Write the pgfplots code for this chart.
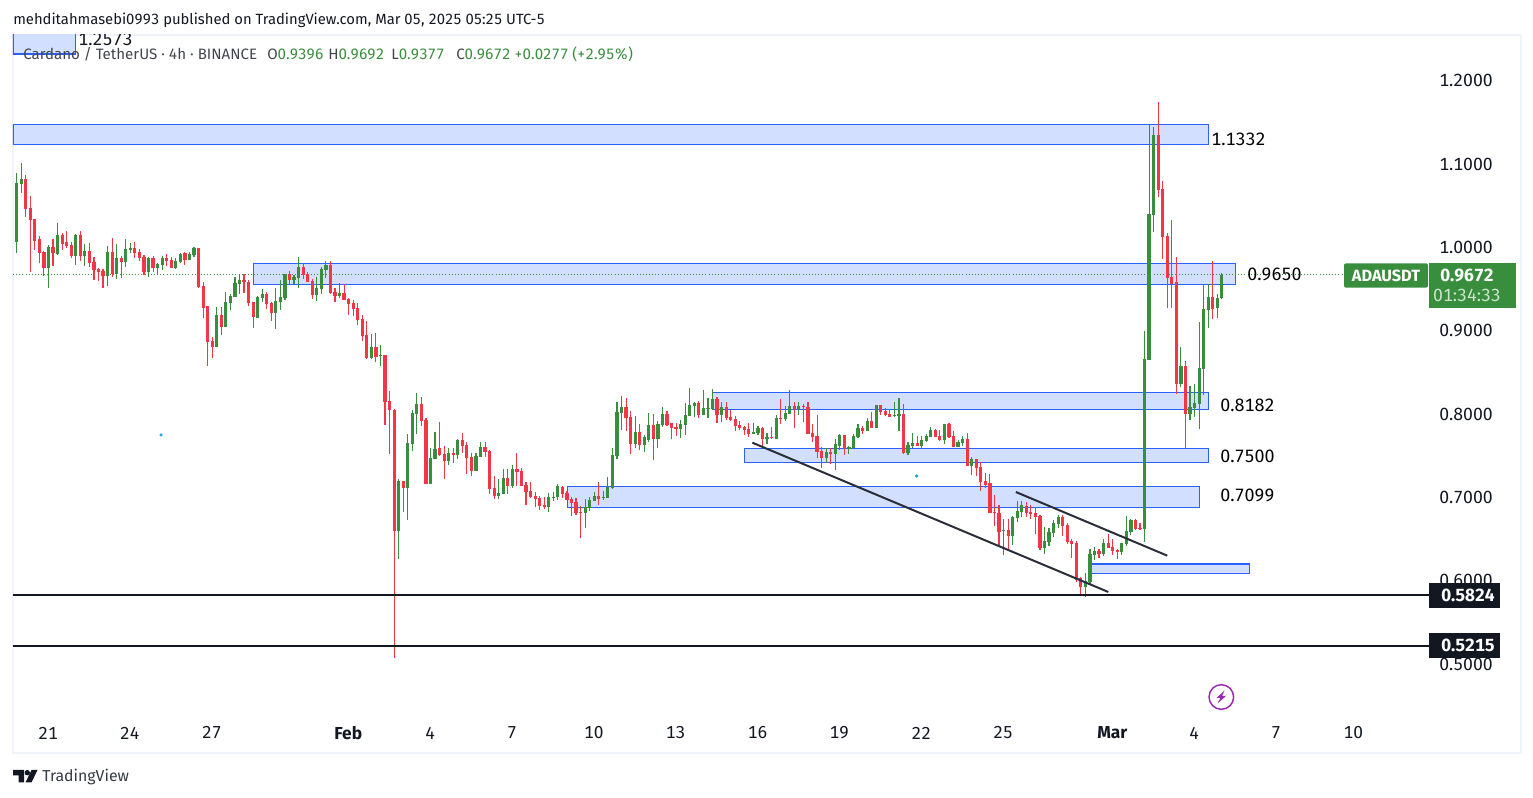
\documentclass[border=0pt]{standalone}
\usepackage{pgfplots}
\usepackage{pgfplotstable}
\usepackage{fontspec}
\setmainfont{Fira Sans}[Numbers={Lining,Monospaced}]
\pgfplotsset{compat=1.18}

\definecolor{upc}{HTML}{388E3C}
\definecolor{downc}{HTML}{F23645}
\definecolor{zonef}{HTML}{D2DFFE}
\definecolor{zonel}{HTML}{2962FF}
\definecolor{ink}{HTML}{131722}
\definecolor{pane}{HTML}{F0F3FA}
\definecolor{trend}{HTML}{2A2E39}
\definecolor{bolt}{HTML}{9C27B0}

% i o h l c, 4h candles, i=0 is Jan 21
\pgfplotstableread{
i o h l c
-7 1.0064 1.0892 0.9932 1.0772
-6 1.0760 1.1012 1.0652 1.0820
0 0.9752 1.0028 0.9512 1.0004
2 0.9920 1.0292 0.9908 1.0148
6 0.9896 1.0160 0.9788 1.0148
8 0.9896 1.0040 0.9776 0.9956
13 0.9656 1.0016 0.9536 0.9944
15 0.9680 1.0040 0.9620 0.9872
17 0.9824 1.0100 0.9764 0.9980
18 0.9968 1.0052 0.9932 0.9992
22 0.9704 0.9884 0.9644 0.9872
24 0.9752 0.9812 0.9680 0.9800
25 0.9788 0.9896 0.9728 0.9872
28 0.9752 0.9872 0.9740 0.9836
29 0.9824 0.9932 0.9812 0.9920
31 0.9848 0.9944 0.9848 0.9920
32 0.9908 1.0004 0.9884 0.9992
37 0.8804 0.9284 0.8804 0.9188
39 0.9044 0.9464 0.9044 0.9344
40 0.9332 0.9440 0.9248 0.9416
41 0.9404 0.9644 0.9404 0.9572
42 0.9560 0.9680 0.9440 0.9608
46 0.9152 0.9416 0.9152 0.9404
47 0.9392 0.9500 0.9344 0.9440
50 0.9212 0.9512 0.9020 0.9356
51 0.9344 0.9608 0.9248 0.9404
52 0.9392 0.9680 0.9368 0.9680
54 0.9608 0.9668 0.9560 0.9644
55 0.9632 0.9884 0.9512 0.9764
59 0.9428 0.9644 0.9356 0.9512
60 0.9500 0.9764 0.9440 0.9740
61 0.9728 0.9836 0.9632 0.9788
64 0.9416 0.9572 0.9392 0.9452
71 0.8672 0.8960 0.8660 0.8804
73 0.8696 0.8828 0.8576 0.8708
77 0.6596 0.7220 0.6260 0.7196
79 0.7112 0.7760 0.6728 0.7652
80 0.7640 0.8048 0.7556 0.8012
81 0.8000 0.8252 0.7760 0.8120
84 0.7160 0.7592 0.7160 0.7472
85 0.7460 0.7784 0.7460 0.7580
88 0.7436 0.7592 0.7388 0.7532
90 0.7508 0.7700 0.7460 0.7688
94 0.7316 0.7532 0.7316 0.7496
95 0.7484 0.7664 0.7484 0.7604
99 0.7016 0.7220 0.6980 0.7052
100 0.7040 0.7340 0.7040 0.7232
102 0.7136 0.7388 0.7112 0.7340
110 0.6884 0.7052 0.6824 0.7004
111 0.6992 0.7064 0.6956 0.7004
112 0.7004 0.7160 0.6968 0.7136
118 0.6812 0.6980 0.6632 0.6884
119 0.6872 0.7004 0.6836 0.6968
120 0.6956 0.7064 0.6956 0.7016
122 0.6992 0.7076 0.6968 0.7004
123 0.6992 0.7244 0.6992 0.7124
124 0.7112 0.7592 0.7100 0.7508
125 0.7496 0.8144 0.7460 0.8024
126 0.8012 0.8216 0.7808 0.8084
129 0.7640 0.7976 0.7592 0.7784
131 0.7628 0.7748 0.7544 0.7724
132 0.7688 0.8012 0.7664 0.7868
134 0.7700 0.7916 0.7592 0.7880
135 0.7868 0.8084 0.7844 0.8000
139 0.7820 0.7928 0.7712 0.7880
140 0.7868 0.8132 0.7748 0.7988
141 0.7976 0.8312 0.7976 0.8108
142 0.8096 0.8144 0.7964 0.8132
144 0.7988 0.8288 0.7988 0.8072
145 0.8060 0.8192 0.7952 0.8072
146 0.8060 0.8300 0.8048 0.8180
148 0.7988 0.8144 0.7904 0.8084
155 0.7760 0.7892 0.7760 0.7784
156 0.7772 0.7856 0.7748 0.7832
158 0.7700 0.7772 0.7640 0.7724
160 0.7700 0.7988 0.7700 0.7952
162 0.7940 0.8096 0.7916 0.8012
163 0.8000 0.8288 0.8000 0.8096
165 0.8060 0.8144 0.7988 0.8096
171 0.7472 0.7592 0.7412 0.7544
173 0.7520 0.7700 0.7328 0.7640
174 0.7616 0.7760 0.7568 0.7748
176 0.7580 0.7616 0.7520 0.7604
177 0.7592 0.7760 0.7580 0.7736
178 0.7724 0.7880 0.7712 0.7832
180 0.7796 0.7952 0.7796 0.7916
182 0.7832 0.8108 0.7832 0.8108
186 0.7976 0.8144 0.7964 0.7988
187 0.7976 0.8192 0.7796 0.8000
189 0.7532 0.7664 0.7508 0.7628
190 0.7616 0.7772 0.7592 0.7652
192 0.7616 0.7736 0.7592 0.7688
193 0.7676 0.7760 0.7664 0.7736
194 0.7724 0.7844 0.7724 0.7808
197 0.7688 0.7880 0.7640 0.7880
200 0.7604 0.7688 0.7604 0.7664
201 0.7652 0.7736 0.7616 0.7700
203 0.7376 0.7484 0.7268 0.7460
210 0.6596 0.6740 0.6308 0.6608
212 0.6536 0.6776 0.6428 0.6764
213 0.6752 0.6956 0.6704 0.6836
214 0.6824 0.6956 0.6764 0.6908
219 0.6392 0.6644 0.6320 0.6476
220 0.6464 0.6632 0.6416 0.6584
221 0.6572 0.6728 0.6524 0.6692
222 0.6680 0.6788 0.6632 0.6764
228 0.5924 0.6092 0.5804 0.5996
229 0.5984 0.6380 0.5960 0.6320
230 0.6308 0.6404 0.6248 0.6356
232 0.6320 0.6500 0.6296 0.6452
236 0.6344 0.6452 0.6308 0.6452
237 0.6440 0.6776 0.6416 0.6596
238 0.6584 0.6740 0.6548 0.6728
241 0.6620 0.8996 0.6464 0.8660
242 0.8648 1.1480 0.8648 1.0400
243 1.0388 1.1444 1.0184 1.1348
249 0.8360 0.8804 0.8324 0.8576
251 0.8000 0.8336 0.7928 0.8084
252 0.8072 0.8360 0.7964 0.8132
253 0.8120 0.9104 0.7820 0.8552
254 0.8540 0.9560 0.8228 0.9260
255 0.9248 0.9560 0.9032 0.9404
257 0.9272 0.9440 0.9152 0.9392
258 0.9396 0.9692 0.9377 0.9672
}\upcandles

\pgfplotstableread{
i o h l c
-5 1.0820 1.0868 1.0364 1.0460
-4 1.0472 1.0616 0.9704 1.0328
-3 1.0340 1.0340 0.9968 1.0076
-2 1.0100 1.0136 0.9812 0.9932
-1 0.9944 0.9956 0.9656 0.9752
1 1.0004 1.0100 0.9776 0.9932
3 1.0148 1.0172 0.9968 1.0040
4 1.0064 1.0196 0.9992 1.0016
5 1.0028 1.0064 0.9872 0.9896
7 1.0148 1.0196 0.9836 0.9896
9 0.9956 1.0052 0.9764 0.9812
10 0.9824 0.9884 0.9608 0.9728
11 0.9740 0.9752 0.9596 0.9704
12 0.9716 0.9740 0.9512 0.9656
14 0.9944 1.0112 0.9644 0.9680
16 0.9872 0.9896 0.9632 0.9824
19 0.9992 1.0064 0.9872 0.9932
20 0.9944 0.9980 0.9836 0.9872
21 0.9884 0.9908 0.9668 0.9704
23 0.9872 0.9896 0.9704 0.9752
26 0.9872 0.9920 0.9776 0.9836
27 0.9848 0.9884 0.9752 0.9752
30 0.9932 0.9944 0.9788 0.9848
33 0.9992 0.9992 0.9512 0.9524
34 0.9536 0.9584 0.9152 0.9272
35 0.9296 0.9296 0.8576 0.8864
36 0.8876 0.8924 0.8672 0.8804
38 0.9188 0.9284 0.8948 0.9044
43 0.9608 0.9680 0.9452 0.9584
44 0.9584 0.9608 0.9296 0.9332
45 0.9344 0.9344 0.9032 0.9164
48 0.9440 0.9464 0.9260 0.9320
49 0.9332 0.9344 0.9116 0.9212
53 0.9680 0.9716 0.9548 0.9608
56 0.9764 0.9800 0.9620 0.9668
57 0.9680 0.9704 0.9584 0.9584
58 0.9596 0.9620 0.9380 0.9428
62 0.9788 0.9836 0.9440 0.9452
63 0.9464 0.9512 0.9344 0.9416
65 0.9452 0.9560 0.9368 0.9368
66 0.9380 0.9392 0.9188 0.9320
67 0.9332 0.9368 0.9176 0.9260
68 0.9272 0.9332 0.9068 0.9128
69 0.9140 0.9188 0.8876 0.8936
70 0.8948 0.9116 0.8660 0.8672
72 0.8804 0.8972 0.8624 0.8684
74 0.8708 0.8708 0.7868 0.8144
75 0.8156 0.8276 0.7520 0.8048
76 0.8048 0.8060 0.5072 0.6596
78 0.7196 0.7196 0.6824 0.7112
82 0.8120 0.8204 0.7856 0.7916
83 0.7928 0.7952 0.7160 0.7160
86 0.7592 0.7904 0.7496 0.7508
87 0.7520 0.7616 0.7220 0.7436
89 0.7532 0.7592 0.7412 0.7508
91 0.7688 0.7772 0.7532 0.7616
92 0.7628 0.7664 0.7280 0.7472
93 0.7484 0.7532 0.7256 0.7316
96 0.7604 0.7664 0.7484 0.7544
97 0.7556 0.7568 0.7040 0.7100
98 0.7112 0.7256 0.6980 0.7016
101 0.7232 0.7340 0.7040 0.7136
103 0.7340 0.7532 0.7136 0.7304
104 0.7316 0.7352 0.7136 0.7136
105 0.7148 0.7184 0.6908 0.7064
106 0.7076 0.7184 0.6992 0.7004
107 0.7016 0.7064 0.6884 0.6980
108 0.6992 0.7016 0.6848 0.6896
109 0.6908 0.7004 0.6860 0.6884
113 0.7124 0.7136 0.6992 0.7040
114 0.7052 0.7076 0.6968 0.6968
115 0.6980 0.7004 0.6776 0.6932
116 0.6944 0.6992 0.6788 0.6812
117 0.6824 0.6896 0.6512 0.6812
121 0.7016 0.7184 0.6908 0.6980
127 0.8084 0.8192 0.7796 0.7952
128 0.7964 0.8036 0.7520 0.7640
130 0.7784 0.7880 0.7568 0.7628
133 0.7868 0.8000 0.7448 0.7700
136 0.8000 0.8036 0.7856 0.7868
137 0.7892 0.7892 0.7700 0.7832
138 0.7844 0.7892 0.7736 0.7820
143 0.8132 0.8156 0.7952 0.7988
147 0.8180 0.8204 0.7892 0.7988
149 0.8084 0.8144 0.7928 0.7952
150 0.7964 0.8048 0.7916 0.7928
151 0.7940 0.7976 0.7796 0.7856
152 0.7868 0.7916 0.7808 0.7832
153 0.7844 0.7856 0.7748 0.7808
154 0.7820 0.7892 0.7724 0.7760
157 0.7832 0.7844 0.7604 0.7700
159 0.7724 0.7844 0.7700 0.7712
161 0.7952 0.8180 0.7880 0.7940
164 0.8096 0.8144 0.7832 0.8060
166 0.8096 0.8120 0.7904 0.8084
167 0.8084 0.8144 0.7760 0.7760
168 0.7772 0.7880 0.7664 0.7724
169 0.7736 0.7988 0.7472 0.7544
170 0.7556 0.7604 0.7352 0.7472
172 0.7544 0.7592 0.7400 0.7520
175 0.7748 0.7748 0.7508 0.7580
179 0.7832 0.7856 0.7760 0.7796
181 0.7916 0.8024 0.7832 0.7832
183 0.8108 0.8108 0.7988 0.8024
184 0.8036 0.8072 0.7976 0.7988
185 0.8000 0.8048 0.7964 0.7964
188 0.8000 0.8120 0.7520 0.7532
191 0.7652 0.7736 0.7616 0.7616
195 0.7808 0.7820 0.7724 0.7724
196 0.7736 0.7808 0.7676 0.7688
198 0.7880 0.7892 0.7712 0.7724
199 0.7736 0.7796 0.7604 0.7604
202 0.7700 0.7772 0.7376 0.7376
204 0.7460 0.7460 0.7256 0.7352
205 0.7364 0.7424 0.7076 0.7184
206 0.7196 0.7292 0.7112 0.7148
207 0.7172 0.7280 0.6812 0.6812
208 0.6824 0.7028 0.6656 0.6812
209 0.6812 0.6908 0.6404 0.6584
211 0.6608 0.6740 0.6356 0.6536
215 0.6896 0.6944 0.6764 0.6812
216 0.6824 0.6908 0.6740 0.6800
217 0.6812 0.6884 0.6560 0.6764
218 0.6776 0.6788 0.6368 0.6392
223 0.6764 0.6788 0.6536 0.6656
224 0.6668 0.6692 0.6440 0.6464
225 0.6476 0.6500 0.6272 0.6440
226 0.6452 0.6476 0.5984 0.6008
227 0.6032 0.6044 0.5816 0.5924
231 0.6356 0.6380 0.6272 0.6320
233 0.6452 0.6560 0.6392 0.6392
234 0.6404 0.6500 0.6308 0.6356
235 0.6368 0.6380 0.6260 0.6344
239 0.6728 0.6740 0.6608 0.6620
240 0.6632 0.6692 0.6608 0.6620
244 1.1348 1.1744 1.0604 1.0688
245 1.0700 1.0796 0.9860 1.0124
246 1.0136 1.0172 0.9272 0.9632
247 0.9644 1.0328 0.9272 0.9560
248 0.9584 0.9884 0.8240 0.8360
250 0.8576 0.8636 0.7592 0.8000
256 0.9404 0.9836 0.9140 0.9260
}\downcandles

\pgfplotsset{
  wick/.style={draw=none, mark=none, forget plot,
    error bars/.cd, y dir=plus, y explicit, error mark=none,
    error bar style={color=#1, line width=0.85pt}},
  body/.style={draw=none, mark=none, forget plot,
    error bars/.cd, y dir=plus, y explicit, error mark=none,
    error bar style={color=#1, line width=2.4pt}},
  zone/.style={fill=zonef, draw=zonel, line width=0.8pt, mark=none, forget plot},
}

\begin{document}
\begin{tikzpicture}
\useasboundingbox (0,0) rectangle (1149.75pt,598.5pt);
\begin{axis}[
  at={(9.75pt,33.75pt)}, anchor=south west,
  scale only axis, width=1131pt, height=538.5pt,
  xmin=-7.8, xmax=323.78,
  ymin=0.3932, ymax=1.2548,
  axis line style={color=pane, line width=1.5pt},
  major tick length=0pt,
  tick style={draw=none},
  ytick={0.5,0.6,0.7,0.8,0.9,1.0,1.1,1.2},
  yticklabel pos=right,
  yticklabel style={anchor=east, xshift=-21pt, inner sep=0pt, text=ink,
    font=\fontsize{13.2pt}{15pt}\selectfont,
    /pgf/number format/.cd, fixed, fixed zerofill, precision=4, assume math mode=true},
  scaled y ticks=false,
  xtick={0,18,36,66,84,102,120,138,156,174,192,210,234,252,270,287},
  xticklabels={21,24,27,\textbf{Feb},4,7,10,13,16,19,22,25,\textbf{Mar},4,7,10},
  xticklabel style={anchor=center, yshift=15pt, xshift=-0.3pt, text=ink, inner sep=0pt,
    font=\fontsize{13pt}{15pt}\selectfont},
]
% zones
\addplot[zone] coordinates {(-7.8,1.232) (6.0,1.232) (6.0,1.30) (-7.8,1.30)} --cycle;
\addplot[zone] coordinates {(-7.8,1.1236) (254.96,1.1236) (254.96,1.1476) (-7.8,1.1476)} --cycle;
\addplot[zone] coordinates {(45.04,0.9556) (261.05,0.9556) (261.05,0.9808) (45.04,0.9808)} --cycle;
\addplot[zone] coordinates {(146.05,0.8056) (254.96,0.8056) (254.96,0.8260) (146.05,0.8260)} --cycle;
\addplot[zone] coordinates {(153.0,0.7420) (254.96,0.7420) (254.96,0.7588) (153.0,0.7588)} --cycle;
\addplot[zone] coordinates {(114.08,0.6880) (253.1,0.6880) (253.1,0.7132) (114.08,0.7132)} --cycle;
\addplot[zone] coordinates {(229.16,0.6088) (264.1,0.6088) (264.1,0.6200) (229.16,0.6200)} --cycle;
% last price
\addplot[upc, line width=0.75pt, dash pattern=on 0.75pt off 1.6pt, forget plot] coordinates {(-7.8,0.9672) (285,0.9672)};
% candles
\addplot[wick=upc] table[x=i, y=l, y error plus expr=\thisrow{h}-\thisrow{l}] {\upcandles};
\addplot[wick=downc] table[x=i, y=l, y error plus expr=\thisrow{h}-\thisrow{l}] {\downcandles};
\addplot[body=upc] table[x=i, y=o, y error plus expr=\thisrow{c}-\thisrow{o}] {\upcandles};
\addplot[body=downc] table[x=i, y=c, y error plus expr=\thisrow{o}-\thisrow{c}] {\downcandles};
% trend lines
\addplot[trend, line width=1.5pt, forget plot] coordinates {(154.76,0.7656) (233.04,0.5864)};
\addplot[trend, line width=1.5pt, forget plot] coordinates {(212.7,0.7064) (246.0,0.6300)};
% support lines
\addplot[ink, line width=1.5pt, forget plot] coordinates {(-7.8,0.5824) (303.6,0.5824)};
\addplot[ink, line width=1.5pt, forget plot] coordinates {(-7.8,0.5215) (303.6,0.5215)};
% stray dots
\addplot[only marks, mark=*, mark size=1pt, color=cyan!70!teal, mark options={draw=none}, forget plot] coordinates {(24.75,0.7748) (190.9,0.7256)};
\end{axis}

% everything below in image pixels
\begin{scope}[shift={(0,598.5pt)}, x=0.75pt, y=-0.75pt]
\begin{scope}
  \clip (13,35) rectangle (200,60);
  \node[anchor=west, inner sep=0pt, text=ink, font=\fontsize{13.4pt}{15pt}\selectfont] at (78,39) {1.2573};
\end{scope}
\node[anchor=west, inner sep=0pt, text=ink, font=\fontsize{11.1pt}{13pt}\selectfont] at (13,20)
  {mehditahmasebi0993 published on TradingView.com, Mar 05, 2025 05:25 UTC-5};
% legend line, placed piece by piece
\foreach \t/\xx in {{Cardano / TetherUS · 4h · BINANCE}/23, {O\textcolor{upc}{0.9396}}/267, {H\textcolor{upc}{0.9692}}/328, {L\textcolor{upc}{0.9377}}/391, {C\textcolor{upc}{0.9672}}/456, {\textcolor{upc}{+0.0277}}/514, {\textcolor{upc}{(+2.95\%)}}/572}
  \node[anchor=west, inner sep=0pt, text=ink!80, font=\fontsize{11.3pt}{13pt}\selectfont] at (\xx,54) {\t};
% zone labels
\foreach \t/\xx/\yy in {1.1332/1211/139, 0.9650/1247/274, 0.8182/1220/405, 0.7500/1220/456, 0.7099/1220/495}
  \node[anchor=west, inner sep=0pt, text=black, font=\fontsize{13.4pt}{15pt}\selectfont] at (\xx,\yy) {\t};
% tags
\fill[upc, rounded corners=1.5pt] (1344,263.3) rectangle (1428,287.7);
\node[text=white, font=\fontsize{12.2pt}{14pt}\selectfont\bfseries, inner sep=0pt] at (1386,275.5) {ADAUSDT};
\fill[upc] (1429,263.3) rectangle (1515.7,307.7);
\node[text=white, font=\fontsize{13.2pt}{15pt}\selectfont\bfseries, inner sep=0pt] at (1467,275.5) {0.9672};
\node[text=white!75!upc, font=\fontsize{13.2pt}{15pt}\selectfont, inner sep=0pt] at (1467,295.5) {01:34:33};
\fill[ink] (1429,583.3) rectangle (1500,607.7);
\node[text=white, font=\fontsize{13.2pt}{15pt}\selectfont\bfseries, inner sep=0pt] at (1468,595.5) {0.5824};
\fill[ink] (1429,633.3) rectangle (1500,657.7);
\node[text=white, font=\fontsize{13.2pt}{15pt}\selectfont\bfseries, inner sep=0pt] at (1468,645.5) {0.5215};
% bolt icon
\draw[bolt, line width=1.1pt] (1221.3,697) circle (12.3);
\fill[bolt] (1224.5,690.5) -- (1216.5,698) -- (1220.5,698) -- (1217.5,703.5) -- (1226,696) -- (1222,696) -- cycle;
% footer logo
\fill[ink] (13,770) -- (24,770) -- (24,782.5) -- (18.5,782.5) -- (18.5,775.5) -- (13,775.5) -- cycle;
\fill[ink] (27.3,772.7) circle (2.7);
\fill[ink] (31.5,770) -- (37.5,770) -- (31.5,782.5) -- (25.5,782.5) -- cycle;
\node[anchor=west, inner sep=0pt, text=ink!85, font=\fontsize{11.9pt}{14pt}\selectfont] at (42,777) {TradingView};
\end{scope}
\end{tikzpicture}
\end{document}
